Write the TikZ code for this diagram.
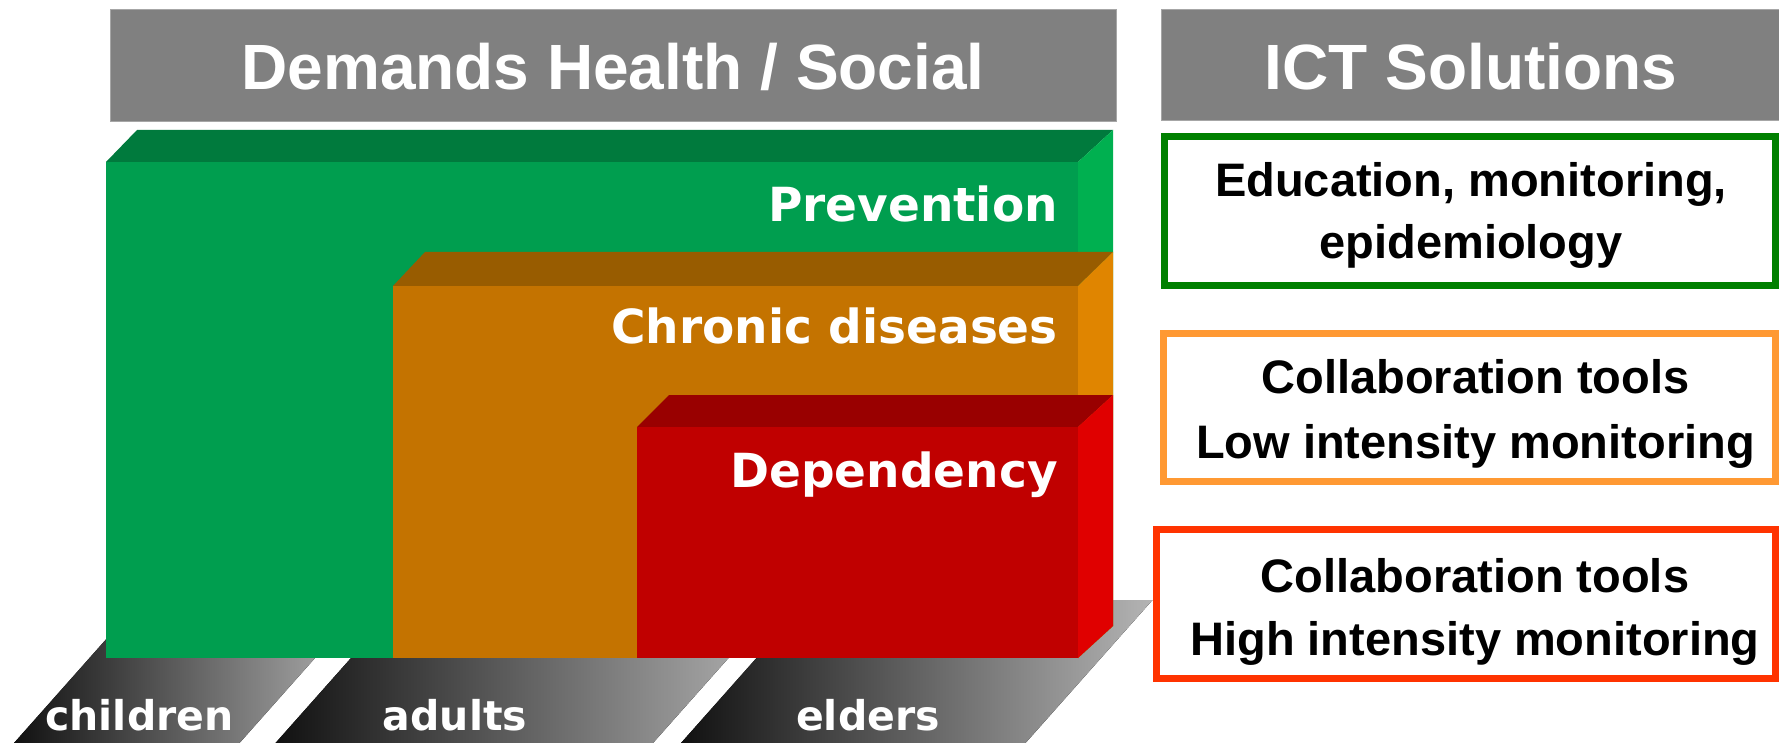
\documentclass[tikz,border=0pt]{standalone}
\usepackage{fontspec}
\setmainfont{Liberation Sans}
\newfontfamily\dvs{DejaVu Sans}
\definecolor{hdrgray}{HTML}{808080}
\definecolor{hdredge}{HTML}{A6A6A6}
\definecolor{gFront}{HTML}{009E4F}
\definecolor{gTop}{HTML}{007A3D}
\definecolor{gSide}{HTML}{00B050}
\definecolor{oFront}{HTML}{C47300}
\definecolor{oTop}{HTML}{985C00}
\definecolor{oSide}{HTML}{E08500}
\definecolor{rFront}{HTML}{C00000}
\definecolor{rTop}{HTML}{990000}
\definecolor{rSide}{HTML}{E00000}
\definecolor{bandL}{HTML}{111111}
\definecolor{bandR}{HTML}{B4B4B4}
\definecolor{ictGreen}{HTML}{008000}
\definecolor{ictOrange}{HTML}{FF9933}
\definecolor{ictRed}{HTML}{FF3300}
\begin{document}
\begin{tikzpicture}[x=1pt,y=-1pt,
  hdr/.style={fill=hdrgray,draw=hdredge,line width=1},
  hdrtext/.style={text=white,font=\fontsize{64}{70}\selectfont\bfseries,inner sep=0,anchor=base},
  lbl/.style={text=white,font=\dvs\fontsize{47}{56}\selectfont\bfseries,inner sep=0,anchor=base east},
  agelbl/.style={text=white,font=\dvs\fontsize{41}{50}\selectfont\bfseries,inner sep=0,anchor=base},
  band/.style={left color=bandL,right color=bandR},
  ictbox/.style={fill=white,line width=7},
  icttext/.style={text=black,font=\fontsize{47}{56}\selectfont\bfseries,inner sep=0,anchor=base}]
\useasboundingbox (0,0) rectangle (1779,743);
\fill[white] (0,0) rectangle (1779,743);
% floor bands
\fill[band] (14,743) -- (141,600) -- (366.5,600) -- (239.5,743) -- cycle;
\fill[band] (275.5,743) -- (402.5,600) -- (780,600) -- (653,743) -- cycle;
\fill[band] (681,743) -- (808,600) -- (1152.5,600) -- (1025.5,743) -- cycle;
% green block
\fill[gTop] (106,162) -- (137,130) -- (1113,130) -- (1078,162) -- cycle;
\fill[gSide] (1078,162) -- (1113,130) -- (1113,626) -- (1078,658) -- cycle;
\fill[gFront] (106,162) rectangle (1078,658);
% orange block
\fill[oTop] (393,286) -- (425,252) -- (1113,252) -- (1078,286) -- cycle;
\fill[oSide] (1078,286) -- (1113,252) -- (1113,626) -- (1078,658) -- cycle;
\fill[oFront] (393,286) rectangle (1078,658);
% red block
\fill[rTop] (637,427) -- (669,395) -- (1113,395) -- (1078,427) -- cycle;
\fill[rSide] (1078,427) -- (1113,395) -- (1113,626) -- (1078,658) -- cycle;
\fill[rFront] (637,427) rectangle (1078,658);
% block labels
\node[lbl] (prev) at (1058,222) {Prevention};
\node[lbl] (chron) at (1058,343) {Chronic diseases};
\node[lbl] (dep) at (1058,487) {Dependency};
% age labels
\node[agelbl] (children) at (139.5,730) {children};
\node[agelbl] (adults) at (455,730) {adults};
\node[agelbl] (elders) at (868,730) {elders};
% headers
\draw[hdr] (110,9.5) rectangle (1116,121.5);
\node[hdrtext] (hdemand) at (613,89.5) {Demands Health / Social};
\draw[hdr] (1161,9.5) rectangle (1785,120.5);
\node[hdrtext] (hict) at (1471,89.5) {ICT Solutions};
% ICT boxes
\draw[ictbox,draw=ictGreen] (1164.5,136.5) rectangle (1775,285.5);
\node[icttext] (edu1) at (1471,197) {Education, monitoring,};
\node[icttext] (edu2) at (1471,258.5) {epidemiology};
\draw[ictbox,draw=ictOrange] (1163.5,333.5) rectangle (1775.5,481.5);
\node[icttext] (low1) at (1475.5,393.5) {Collaboration tools};
\node[icttext] (low2) at (1475.5,458) {Low intensity monitoring};
\draw[ictbox,draw=ictRed] (1156.5,529.5) rectangle (1775.5,678.5);
\node[icttext] (high1) at (1475,592) {Collaboration tools};
\node[icttext] (high2) at (1475,655) {High intensity monitoring};
\end{tikzpicture}
\end{document}
